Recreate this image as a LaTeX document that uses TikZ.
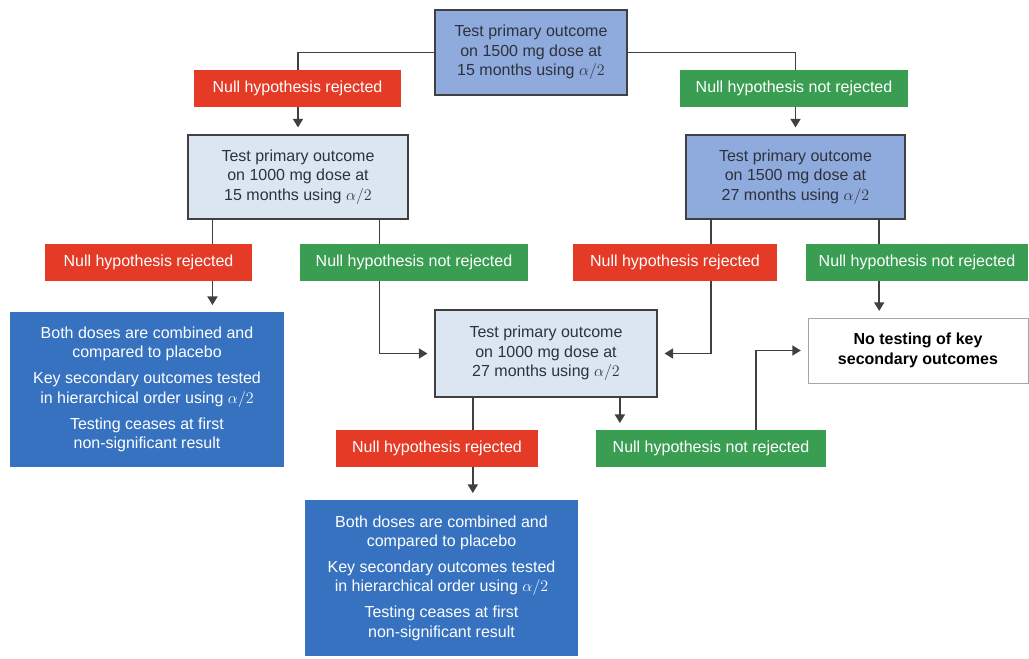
\documentclass[tikz,border=0pt]{standalone}
\usepackage{fontspec}
\setmainfont{Liberation Sans}
\usepackage{tikz}
\usetikzlibrary{arrows.meta,positioning,calc,backgrounds}

\definecolor{midblue}{RGB}{143,170,220}
\definecolor{paleblue}{RGB}{220,230,242}
\definecolor{deepblue}{RGB}{54,114,192}
\definecolor{nullred}{RGB}{228,58,38}
\definecolor{nullgreen}{RGB}{58,158,82}
\definecolor{edgegray}{RGB}{64,64,64}
\definecolor{textgray}{RGB}{45,50,60}

\begin{document}
\begin{tikzpicture}[
  x=0.75pt, y=-0.75pt,
  test/.style={rectangle, draw=edgegray, line width=1.3pt, align=center,
    text=textgray, inner sep=2pt, font=\fontsize{12}{14.5}\selectfont},
  outcome/.style={rectangle, text=white, minimum height=27.75pt,
    inner sep=2pt, font=\fontsize{12}{14.5}\selectfont},
  rejected/.style={outcome, fill=nullred},
  kept/.style={outcome, fill=nullgreen},
  result/.style={rectangle, fill=deepblue, text=white, align=center,
    inner sep=2pt, font=\fontsize{12}{14.5}\selectfont},
  arrow/.style={-{Triangle[length=6.5pt,width=7.5pt]}, line width=1.4pt,
    draw=edgegray, shorten >=5pt},
]
  \useasboundingbox (0,0) rectangle (1029,658);

  % first test
  \node[test, fill=midblue, minimum width=144pt, minimum height=63.75pt] (t15hi) at (531,52.5)
    {Test primary outcome\\on 1500 mg dose at\\15 months using $\alpha/2$};
  \node[rejected, minimum width=155.25pt] (rej1) at (297.5,88.5) {Null hypothesis rejected};
  \node[kept, minimum width=171pt] (keep1) at (794,88.5) {Null hypothesis not rejected};

  % second level tests
  \node[test, fill=paleblue, minimum width=165pt, minimum height=63pt] (t15lo) at (298,177)
    {Test primary outcome\\on 1000 mg dose at\\15 months using $\alpha/2$};
  \node[test, fill=midblue, minimum width=164.25pt, minimum height=63pt] (t27hi) at (795.5,177)
    {Test primary outcome\\on 1500 mg dose at\\27 months using $\alpha/2$};

  \node[rejected, minimum width=155.25pt] (rej2) at (148.5,262.5) {Null hypothesis rejected};
  \node[kept, minimum width=171pt] (keep2) at (414,262.5) {Null hypothesis not rejected};
  \node[rejected, minimum width=153pt] (rej3) at (675,262.5) {Null hypothesis rejected};
  \node[kept, minimum width=166.5pt] (keep3) at (917,262.5) {Null hypothesis not rejected};

  % outcomes
  \node[result, minimum width=205.5pt, minimum height=116.25pt] (combA) at (147,389.5)
    {Both doses are combined and\\compared to placebo\\[5pt]
     Key secondary outcomes tested\\in hierarchical order using $\alpha/2$\\[5pt]
     Testing ceases at first\\non-significant result};
  \node[test, fill=paleblue, minimum width=166.5pt, minimum height=65.25pt] (t27lo) at (546,353.5)
    {Test primary outcome\\on 1000 mg dose at\\27 months using $\alpha/2$};
  \node[test, draw=black!35, line width=0.6pt, fill=white, text=black, font=\fontsize{12}{14.5}\selectfont\bfseries,
    minimum width=165pt, minimum height=48.75pt] (notest) at (918,350.5)
    {No testing of key\\secondary outcomes};

  \node[rejected, minimum width=151.5pt] (rej4) at (437,448.5) {Null hypothesis rejected};
  \node[kept, minimum width=172.5pt] (keep4) at (711,448.5) {Null hypothesis not rejected};

  \node[result, minimum width=204.75pt, minimum height=117pt] (combB) at (441.5,578)
    {Both doses are combined and\\compared to placebo\\[5pt]
     Key secondary outcomes tested\\in hierarchical order using $\alpha/2$\\[5pt]
     Testing ceases at first\\non-significant result};

  \begin{scope}[on background layer]
    \draw[arrow] (t15hi.west) -| (t15lo.north);
    \draw[arrow] (t15hi.east) -| (t27hi.north);
    \draw[arrow] ([xshift=19pt]t15lo.south west) -- ([xshift=19pt]t15lo.south west |- combA.north);
    \draw[arrow] ([xshift=-22pt]t15lo.south east) |- (t27lo.west);
    \draw[arrow] ([xshift=19.5pt]t27hi.south west) |- (t27lo.east);
    \draw[arrow] ([xshift=-20pt]t27hi.south east) -- ([xshift=-20pt]t27hi.south east |- notest.north);
    \draw[arrow] ([xshift=29pt]t27lo.south west) -- ([xshift=29pt]t27lo.south west |- combB.north);
    \draw[arrow] ([xshift=-28.5pt]t27lo.south east) -- ([xshift=-28.5pt]t27lo.south east |- keep4.north);
    \draw[arrow] ([xshift=120pt]keep4.north west) |- (notest.west);
  \end{scope}
\end{tikzpicture}
\end{document}
